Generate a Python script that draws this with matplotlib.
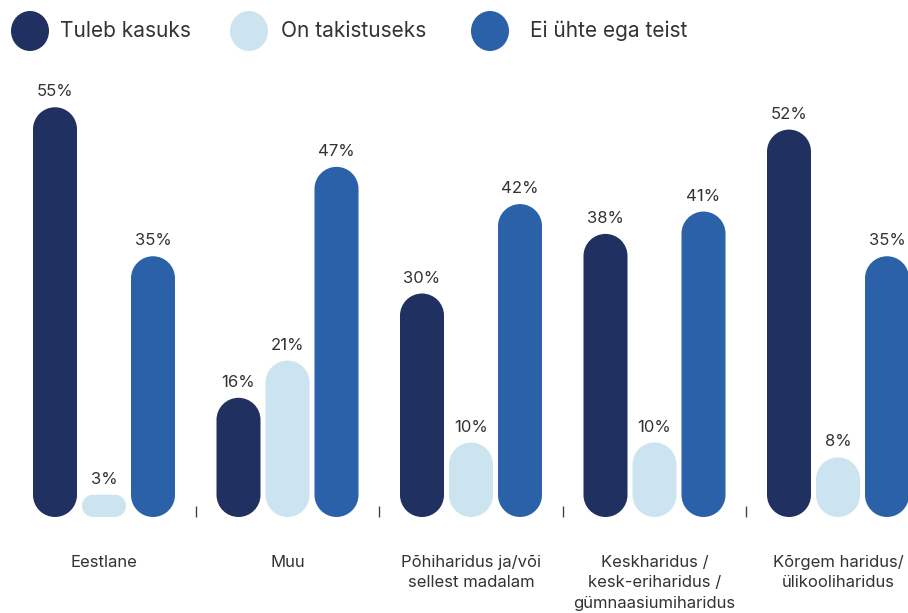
import matplotlib
matplotlib.use("Agg")
import matplotlib.pyplot as plt
from matplotlib.path import Path
from matplotlib.patches import PathPatch, Ellipse
import numpy as np

plt.rcParams['font.family'] = ['Inter', 'DejaVu Sans']

categories = ["Eestlane", "Muu", "Põhiharidus ja/või\nsellest madalam",
              "Keskharidus /\nkesk-eriharidus /\ngümnaasiumiharidus",
              "Kõrgem haridus/\nülikooliharidus"]
series_names = ["Tuleb kasuks", "On takistuseks", "Ei ühte ega teist"]
tuleb = [55, 16, 30, 38, 52]
takistus = [3, 21, 10, 10, 8]
ei_yhte = [35, 47, 42, 41, 35]
series = [tuleb, takistus, ei_yhte]
colors = ["#1f3061", "#cce4f0", "#2b61a8"]
text_color = "#333333"

W, H = 908, 613
fig = plt.figure(figsize=(W / 100, H / 100), dpi=100)

base_px = 517
top_px = 80
px_per_group = 183.5
px_per_pct = 7.45
first_center_px = 104

ax = fig.add_axes([0, (H - base_px) / H, 1, (base_px - top_px) / H])
ax.set_xlim(-first_center_px / px_per_group, (W - first_center_px) / px_per_group)
ax.set_ylim(0, (base_px - top_px) / px_per_pct)
for s in ax.spines.values():
    s.set_visible(False)
ax.set_yticks([])
ax.set_xticks([0.5, 1.5, 2.5, 3.5])
ax.set_xticklabels([])
ax.tick_params(axis='x', direction='in', length=8, width=1, color='#444444')

# pixel scales from the axes
p0 = ax.transData.transform((0, 0))
p1 = ax.transData.transform((1, 1))
sx = p1[0] - p0[0]
sy = p1[1] - p0[1]

bar_pitch = 49 / px_per_group
bar_w = 44 / px_per_group
k = 0.5523


def pill(x0, w, h, rx, ry):
    x1 = x0 + w
    verts = [
        (x0 + rx, 0), (x1 - rx, 0),
        (x1 - rx + k * rx, 0), (x1, ry - k * ry), (x1, ry),
        (x1, h - ry),
        (x1, h - ry + k * ry), (x1 - rx + k * rx, h), (x1 - rx, h),
        (x0 + rx, h),
        (x0 + rx - k * rx, h), (x0, h - ry + k * ry), (x0, h - ry),
        (x0, ry),
        (x0, ry - k * ry), (x0 + rx - k * rx, 0), (x0 + rx, 0),
        (x0 + rx, 0),
    ]
    codes = ([Path.MOVETO, Path.LINETO] + [Path.CURVE4] * 3 + [Path.LINETO]
             + [Path.CURVE4] * 3 + [Path.LINETO] + [Path.CURVE4] * 3
             + [Path.LINETO] + [Path.CURVE4] * 3 + [Path.CLOSEPOLY])
    return Path(verts, codes)


x = np.arange(len(categories))
for si, vals in enumerate(series):
    for gi, v in enumerate(vals):
        xc = x[gi] + (si - 1) * bar_pitch
        w_px = bar_w * sx
        h_px = v * sy
        r = min(w_px / 2, h_px / 2)
        path = pill(xc - bar_w / 2, bar_w, v, r / sx, r / sy)
        ax.add_patch(PathPatch(path, facecolor=colors[si], edgecolor='none', clip_on=False))
        ax.annotate(f"{v}%", xy=(xc, v), xytext=(0, 8), textcoords='offset pixels',
                    ha='center', va='bottom', fontsize=12, color=text_color,
                    annotation_clip=False)

for gi, lab in enumerate(categories):
    ax.annotate(lab, xy=(x[gi], 0), xytext=(0, -38), textcoords='offset pixels',
                ha='center', va='top', fontsize=12, color=text_color,
                linespacing=1.45, annotation_clip=False)

# legend
leg_circles = [30, 249, 490]
leg_text = [60, 281, 530]
yc = 31
for i, name in enumerate(series_names):
    fig.patches.append(Ellipse((leg_circles[i] / W, 1 - yc / H), 38 / W, 40 / H,
                               transform=fig.transFigure, facecolor=colors[i],
                               edgecolor='none'))
    fig.text(leg_text[i] / W, 1 - yc / H, name, ha='left', va='center',
             fontsize=15, color=text_color)

fig.savefig("out.png", dpi=100)
